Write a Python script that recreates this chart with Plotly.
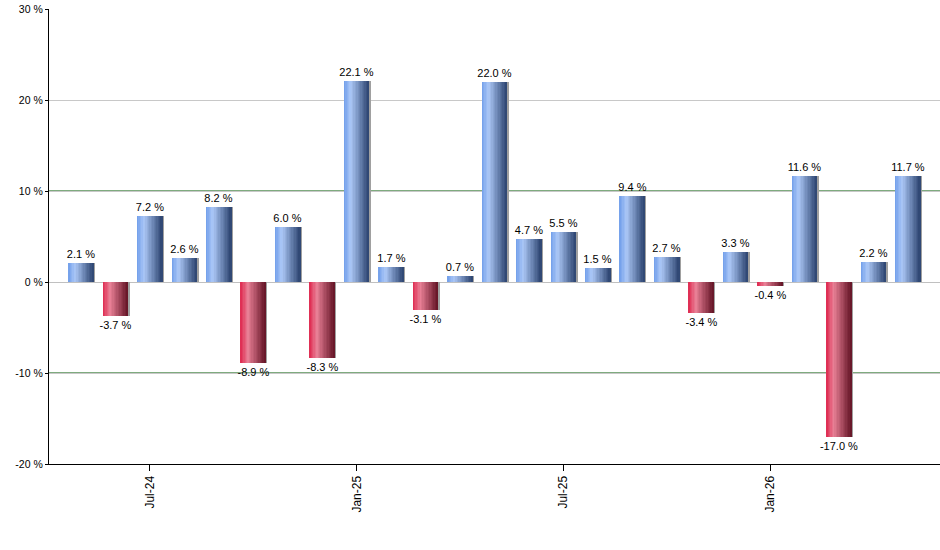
import plotly.graph_objects as go

months = ["May-24", "Jun-24", "Jul-24", "Aug-24", "Sep-24", "Oct-24", "Nov-24", "Dec-24",
          "Jan-25", "Feb-25", "Mar-25", "Apr-25", "May-25", "Jun-25", "Jul-25", "Aug-25",
          "Sep-25", "Oct-25", "Nov-25", "Dec-25", "Jan-26", "Feb-26", "Mar-26", "Apr-26", "May-26"]
returns = [2.1, -3.7, 7.2, 2.6, 8.2, -8.9, 6.0, -8.3, 22.1, 1.7, -3.1, 0.7, 22.0, 4.7, 5.5, 1.5,
           9.4, 2.7, -3.4, 3.3, -0.4, 11.6, -17.0, 2.2, 11.7]
tick_labels = ["Jul-24", "Jan-25", "Jul-25", "Jan-26"]
y_ticks = [-20, -10, 0, 10, 20, 30]
y_tick_labels = ["-20 %", "-10 %", "0 %", "10 %", "20 %", "30 %"]

BAR_W = 0.72
N = 18

def lerp(c1, c2, t):
    return tuple(round(a + (b - a) * t) for a, b in zip(c1, c2))

def grad(stops, t):
    for (p0, c0), (p1, c1) in zip(stops, stops[1:]):
        if t <= p1:
            return lerp(c0, c1, (t - p0) / (p1 - p0))
    return stops[-1][1]

blue = [(0.0, (112, 158, 234)), (0.28, (172, 200, 247)), (1.0, (44, 68, 112))]
red = [(0.0, (222, 40, 78)), (0.30, (233, 128, 150)), (1.0, (100, 20, 38))]

fig = go.Figure()

# shadow
fig.add_trace(go.Bar(x=months, y=returns, width=BAR_W, offset=-BAR_W / 2 + 0.05,
                     marker=dict(color="#a0a0a0", line_width=0), hoverinfo="skip",
                     showlegend=False))

sw = BAR_W / N
for i in range(N):
    t = (i + 0.5) / N
    cols = []
    for v in returns:
        c = grad(blue if v >= 0 else red, t)
        cols.append("rgb(%d,%d,%d)" % c)
    fig.add_trace(go.Bar(x=months, y=returns, width=sw * 1.25, offset=-BAR_W / 2 + i * sw,
                         marker=dict(color=cols, line_width=0), hoverinfo="skip",
                         showlegend=False))

# labels
fig.add_trace(go.Bar(x=months, y=returns, width=BAR_W, offset=-BAR_W / 2,
                     marker=dict(color="rgba(0,0,0,0)", line_width=0),
                     texttemplate="%{y:.1f} %", textposition="outside", cliponaxis=False,
                     constraintext="none",
                     textfont=dict(family="Liberation Sans, Arial", size=11, color="#000000"),
                     showlegend=False))

for yv in (10, -10):
    fig.add_hline(y=yv, line=dict(color="#005800", width=1.2), layer="below")

fig.update_layout(
    width=940, height=550,
    margin=dict(l=49, r=0, t=9, b=86),
    paper_bgcolor="white", plot_bgcolor="white",
    barmode="overlay", bargap=0,
    font=dict(family="Liberation Sans, Arial", color="#000000"),
)
fig.update_xaxes(
    type="category", categoryorder="array", categoryarray=months,
    range=[-0.93, 24.93],
    tickmode="array", tickvals=tick_labels, ticktext=tick_labels,
    tickangle=-90, ticks="outside", ticklen=6, tickcolor="#000000",
    tickfont=dict(size=12, color="#000000"),
    showline=True, linecolor="#000000", linewidth=1.2,
    showgrid=False, zeroline=False,
)
fig.update_yaxes(
    range=[-20, 30], tickmode="array", tickvals=y_ticks, ticktext=y_tick_labels,
    ticks="outside", ticklen=3, tickcolor="#000000",
    tickfont=dict(size=10.5, color="#000000"),
    showline=True, linecolor="#000000", linewidth=1.2,
    showgrid=True, gridcolor="#c8c8c8", gridwidth=1,
    zeroline=True, zerolinecolor="#c0c0c0", zerolinewidth=1,
)

fig.write_html("out.html", config={"displayModeBar": False},
               post_script="document.body.style.margin='0';document.body.style.overflow='hidden';")
